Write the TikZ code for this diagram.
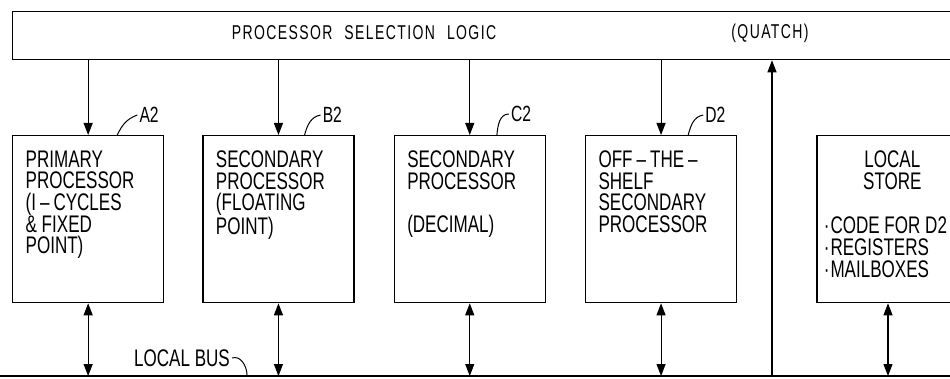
\documentclass[tikz,border=0pt]{standalone}
\usepackage{fontspec}
\setmainfont{Liberation Sans}[FakeStretch=0.71]
\newfontfamily\barfont{Liberation Sans}[FakeStretch=0.7,LetterSpace=7]
\usetikzlibrary{positioning,arrows.meta}
\newcommand{\boxtext}[1]{\parbox[t][137pt][t]{125pt}{\raggedright #1}}

\begin{document}
\begin{tikzpicture}[x=1pt, y=1pt,
  node distance=38pt,
  unit/.style={draw, line width=1.3pt, inner xsep=13pt, inner ysep=15pt,
               anchor=north west, font=\fontsize{24}{21.7}\selectfont},
  lbl/.style={font=\fontsize{22}{22}\selectfont, inner sep=2pt},
  arr/.style={-{Triangle[length=12pt,width=9pt]}, line width=1.1pt},
  dbl/.style={{Triangle[length=12pt,width=9pt]}-{Triangle[length=12pt,width=9pt]}, line width=1.1pt},
  lead/.style={line width=1pt}
]
  \useasboundingbox (0,0) rectangle (950,378);

  % selection logic bar, running off the right edge
  \node[draw, line width=1.3pt, minimum width=960pt, minimum height=48pt,
        anchor=north west, inner sep=0pt] (bar) at (12,367) {};
  \node[font=\barfont\fontsize{20}{20}\selectfont] (title) at (364,345)
    {PROCESSOR\hspace{12pt}SELECTION\hspace{12pt}LOGIC};
  \node[font=\barfont\fontsize{20}{20}\selectfont] (quatch) at (770,345) {(QUATCH)};

  % processors
  \node[unit] (procA) at (12,243)
    {\boxtext{PRIMARY\\PROCESSOR\\(I\,--\,CYCLES\\\& FIXED\\POINT)}};
  \node[unit, right=of procA] (procB)
    {\boxtext{SECONDARY\\PROCESSOR\\(FLOATING\\POINT)}};
  \node[unit, right=39pt of procB] (procC)
    {\boxtext{SECONDARY\\PROCESSOR\\\mbox{}\\(DECIMAL)}};
  \node[unit, right=39pt of procC] (procD)
    {\boxtext{OFF\,--\,THE\,--\\SHELF\\SECONDARY\\PROCESSOR}};
  \node[unit, inner xsep=7pt, right=79pt of procD] (store)
    {\parbox[t][137pt][t]{137pt}{{\centering LOCAL\\STORE\par}\vspace{23pt}%
      \raggedright ·\kern1pt CODE FOR D2\\·\kern1pt REGISTERS\\·\kern1pt MAILBOXES}};

  % reference labels
  \node[lbl, anchor=west] (labA) at ([xshift=-27pt,yshift=20pt]procA.north east) {A2};
  \node[lbl, anchor=west] (labB) at ([xshift=-34pt,yshift=20pt]procB.north east) {B2};
  \node[lbl, anchor=west] (labC) at ([xshift=-37pt,yshift=21pt]procC.north east) {C2};
  \node[lbl, anchor=west] (labD) at ([xshift=-34pt,yshift=20pt]procD.north east) {D2};
  \draw[lead] ([xshift=-47pt]procA.north east) to[out=65,in=200] (labA.west);
  \draw[lead] ([xshift=-50pt]procB.north east) to[out=75,in=190] (labB.west);
  \draw[lead] ([xshift=-49pt]procC.north east) to[out=85,in=180] (labC.west);
  \draw[lead] ([xshift=-49pt]procD.north east) to[out=75,in=190] (labD.west);

  % local bus
  \coordinate (busL) at (0,2);
  \coordinate (busR) at (950,2);
  \draw[line width=1.6pt] (busL) -- (busR);
  \node[font=\fontsize{24}{24}\selectfont, inner sep=2pt] (busLbl) at (182,20) {LOCAL BUS};
  \coordinate (busTap) at (247,3);
  \draw[lead] (busLbl.east) to[out=20,in=90] (busTap);

  % selection lines
  \draw[arr] (bar.south -| procA) -- (procA);
  \draw[arr] (bar.south -| procB) -- (procB);
  \draw[arr] (bar.south -| procC) -- (procC);
  \draw[arr] (bar.south -| procD) -- (procD);

  % bus connections
  \draw[dbl] (procA) -- (procA |- busL);
  \draw[dbl] (procB) -- (procB |- busL);
  \draw[dbl] (procC) -- (procC |- busL);
  \draw[dbl] (procD) -- (procD |- busL);
  \draw[dbl] (store.south -| 888,0) -- (888,2);

  % quatch request
  \coordinate (req) at (772,2);
  \draw[arr] (req) -- (req |- bar.south);
\end{tikzpicture}
\end{document}
